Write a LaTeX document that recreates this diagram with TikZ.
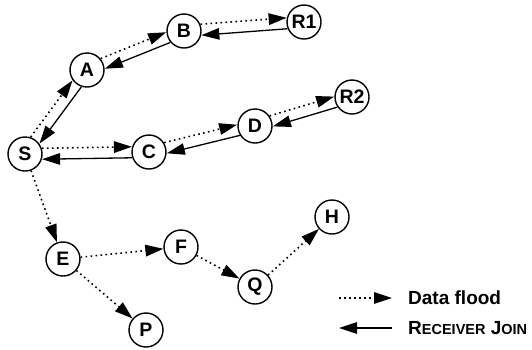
\documentclass[tikz,border=0pt]{standalone}
\usepackage{fontspec}
\setmainfont{Liberation Sans}
\usetikzlibrary{arrows.meta,calc}
\tikzset{
  nd/.style={circle,draw,line width=1.4pt,minimum size=34pt,inner sep=0pt,font=\fontsize{19.5}{19.5}\selectfont\bfseries},
  tip/.style={-{Triangle[length=18pt,width=11.5pt]}},
  floodline/.style={tip,line width=1.6pt,dash pattern=on 1.6pt off 3.4pt},
  joinline/.style={tip,line width=1.3pt},
  pairshort/.style={shorten <=17pt,shorten >=17pt},
  legtext/.style={anchor=west,inner sep=0pt,font=\fontsize{19}{19}\selectfont\bfseries}
}
\newcommand{\floodpair}[2]{%
  \draw[floodline,pairshort] ($(#1)!5.5pt!90:(#2)$) -- ($(#2)!5.5pt!-90:(#1)$);
  \draw[joinline,pairshort] ($(#2)!5.5pt!90:(#1)$) -- ($(#1)!5.5pt!-90:(#2)$);}
\begin{document}
\begin{tikzpicture}[x=1pt,y=-1pt]
\useasboundingbox (0,0) rectangle (532,349);
\node[nd] (S) at (25,154) {S};
\node[nd] (A) at (87,70) {A};
\node[nd] (B) at (184,31) {B};
\node[nd] (R1) at (304,22) {R1};
\node[nd] (C) at (149,152) {C};
\node[nd] (D) at (255,126) {D};
\node[nd] (R2) at (352,97) {R2};
\node[nd] (E) at (63,259) {E};
\node[nd] (F) at (181,247) {F};
\node[nd] (Q) at (255,287) {Q};
\node[nd] (P) at (146,330) {P};
\node[nd] (H) at (332,217) {H};
\floodpair{S}{A}
\floodpair{A}{B}
\floodpair{B}{R1}
\floodpair{S}{C}
\floodpair{C}{D}
\floodpair{D}{R2}
\draw[floodline] (S) -- (E);
\draw[floodline] (E) -- (F);
\draw[floodline] (E) -- (P);
\draw[floodline] (F) -- (Q);
\draw[floodline] (Q) -- (H);
\coordinate (l1a) at (339,298);
\coordinate (l1b) at (392,298);
\coordinate (l2a) at (392,328);
\coordinate (l2b) at (339,328);
\draw[floodline] (l1a) -- (l1b);
\draw[joinline] (l2a) -- (l2b);
\node[legtext] (t1) at (408,298) {Data flood};
\node[legtext] (t2) at (408,328) {R{\fontsize{14.5}{14.5}\selectfont ECEIVER} J{\fontsize{14.5}{14.5}\selectfont OIN}};
\end{tikzpicture}
\end{document}
